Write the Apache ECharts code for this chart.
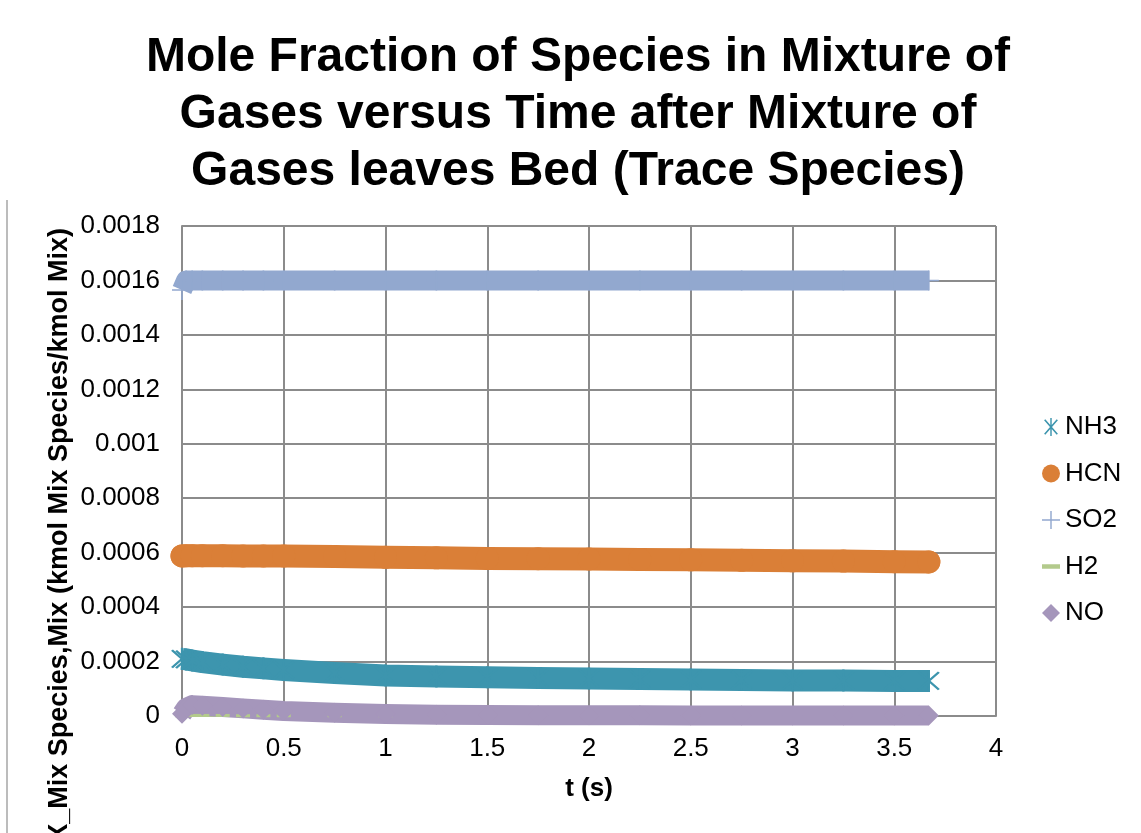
<!DOCTYPE html>
<html>
<head>
<meta charset="utf-8">
<title>Mole Fraction of Trace Species</title>
<script src="https://cdn.jsdelivr.net/npm/echarts@6/dist/echarts.min.js"></script>
<style>
  html, body { margin: 0; padding: 0; background: #ffffff; }
  #chart { width: 1141px; height: 833px; }
</style>
</head>
<body>
<div id="chart"></div>
<script>
// Time after the gas mixture leaves the bed (s)
const timeS = [0, 0.02, 0.05, 0.1, 0.2, 0.3, 0.4, 0.5, 0.75, 1.0, 1.25, 1.5, 1.75, 2.0, 2.25, 2.5, 2.75, 3.0, 3.25, 3.5, 3.67];

// Mole fractions of the trace species (kmol species / kmol mixture)
const nh3 = [0.000210, 0.000208, 0.000204, 0.000198, 0.000189, 0.000181, 0.000175, 0.000169, 0.000158, 0.000149, 0.000145, 0.000142, 0.000140, 0.000138, 0.000136, 0.000134, 0.000132, 0.000130, 0.000130, 0.000129, 0.000129];
const hcn = [0.000588, 0.000589, 0.000589, 0.000589, 0.000589, 0.000588, 0.000588, 0.000588, 0.000586, 0.000583, 0.000581, 0.000579, 0.000578, 0.000577, 0.000575, 0.000574, 0.000572, 0.000570, 0.000569, 0.000567, 0.000566];
const so2 = [0.001565, 0.001600, 0.001600, 0.001600, 0.001600, 0.001600, 0.001600, 0.001600, 0.001600, 0.001600, 0.001600, 0.001600, 0.001600, 0.001600, 0.001600, 0.001600, 0.001600, 0.001600, 0.001600, 0.001600, 0.001600];
const h2  = [0.000001, 0.000002, 0.000002, 0.000002, 0.000002, 0.000001, 0.000001, 0.000001, 0.000001, 0.000001, 0.000001, 0.000001, 0.000001, 0.000001, 0.000001, 0.000001, 0.000001, 0.000001, 0.000001, 0.000001, 0.000001];
const no  = [0.000008, 0.000030, 0.000040, 0.000038, 0.000033, 0.000028, 0.000023, 0.000018, 0.000012, 0.000007, 0.000005, 0.000004, 0.000003, 0.000003, 0.000003, 0.000002, 0.000002, 0.000002, 0.000002, 0.000002, 0.000002];

const speciesNames = ['NH3', 'HCN', 'SO2', 'H2', 'NO'];
const speciesValues = [nh3, hcn, so2, h2, no];

// Axis ranges and steps
const xMin = 0, xMax = 4, xStep = 0.5;
const yMin = 0, yMax = 0.0018, yStep = 0.0002;

// Marker shapes drawn as filled outlines in a 20x20 box
const ASTERISK = 'path://M9.2 0 L10.8 0 L10.8 20 L9.2 20 Z ' +
  'M3.68 1.41 L17.68 17.41 L16.32 18.59 L2.32 2.59 Z ' +
  'M17.68 2.59 L3.68 18.59 L2.32 17.41 L16.32 1.41 Z';
const PLUS = 'path://M9.2 0 L10.8 0 L10.8 20 L9.2 20 Z M0 9.2 L20 9.2 L20 10.8 L0 10.8 Z';
const DASH = 'path://M0 0 L16 0 L16 4 L0 4 Z';

// Per-species marker and band styling
const styles = {
  NH3: { color: '#3d95ae', symbol: ASTERISK, size: 22, width: 22, icon: ASTERISK, cap: 'butt' },
  HCN: { color: '#da7f37', symbol: 'circle', size: 23, width: 23, icon: 'circle', cap: 'round' },
  SO2: { color: '#92a8cf', symbol: PLUS, size: 20, width: 20, icon: PLUS, cap: 'butt' },
  H2:  { color: '#b3ca8c', symbol: 'rect', size: [14, 3], width: 3, icon: DASH, cap: 'butt' },
  NO:  { color: '#a596bb', symbol: 'diamond', size: 20, width: 20, icon: 'diamond', cap: 'butt' }
};

const FONT = '"Liberation Sans", Arial, sans-serif';
const GRID_COLOR = '#8b8b8b';

const series = speciesNames.map(function (name, i) {
  const s = styles[name];
  return {
    name: name,
    type: 'line',
    data: timeS.map(function (t, k) { return [t, speciesValues[i][k]]; }),
    symbol: s.symbol,
    symbolSize: s.size,
    showSymbol: true,
    itemStyle: { color: s.color },
    lineStyle: { color: s.color, width: s.width, cap: s.cap, join: 'round' },
    emphasis: { disabled: true },
    z: 3
  };
});

const chart = echarts.init(document.getElementById('chart'), null, { renderer: 'canvas' });

chart.setOption({
  animation: false,
  backgroundColor: '#ffffff',
  textStyle: { fontFamily: FONT },
  title: {
    text: 'Mole Fraction of Species in Mixture of\nGases versus Time after Mixture of\nGases leaves Bed (Trace Species)',
    left: 573,
    top: 24,
    textAlign: 'center',
    textStyle: { fontFamily: FONT, fontSize: 48, fontWeight: 'bold', color: '#000000', lineHeight: 57 }
  },
  grid: { left: 182, right: 145, top: 226, bottom: 117, containLabel: false },
  legend: {
    orient: 'vertical',
    left: 1037,
    top: 409,
    itemWidth: 18,
    itemHeight: 18,
    itemGap: 20.5,
    symbolKeepAspect: true,
    selectedMode: false,
    textStyle: { fontFamily: FONT, fontSize: 26, color: '#000000', lineHeight: 26 },
    data: speciesNames.map(function (n) { return { name: n, icon: styles[n].icon }; })
  },
  xAxis: {
    type: 'value',
    min: xMin, max: xMax, interval: xStep,
    name: 't (s)',
    nameLocation: 'middle',
    nameGap: 60,
    nameTextStyle: { fontFamily: FONT, fontSize: 26, fontWeight: 'bold', color: '#000000' },
    axisLine: { show: true, onZero: false, lineStyle: { color: GRID_COLOR, width: 2 } },
    axisTick: { show: false },
    axisLabel: { fontFamily: FONT, fontSize: 26, color: '#000000', margin: 20 },
    splitLine: { show: true, lineStyle: { color: GRID_COLOR, width: 2 } }
  },
  yAxis: {
    type: 'value',
    min: yMin, max: yMax, interval: yStep,
    axisLine: { show: true, lineStyle: { color: GRID_COLOR, width: 2 } },
    axisTick: { show: false },
    axisLabel: { fontFamily: FONT, fontSize: 26, color: '#000000', margin: 22 },
    splitLine: { show: true, lineStyle: { color: GRID_COLOR, width: 2 } }
  },
  graphic: [
    {
      // Vertical axis title, reading bottom to top, its end level with the top of the plot
      type: 'text',
      x: 60,
      y: 228,
      rotation: Math.PI / 2,
      style: {
        text: 'X_Mix Species,Mix (kmol Mix Species/kmol Mix)',
        font: 'bold 27px ' + FONT,
        fill: '#000000',
        align: 'right',
        verticalAlign: 'middle'
      }
    },
    {
      // Left edge of the chart frame
      type: 'line',
      shape: { x1: 7, y1: 200, x2: 7, y2: 833 },
      style: { stroke: '#a6a6a6', lineWidth: 1.5 }
    }
  ],
  series: series
});
</script>
</body>
</html>
